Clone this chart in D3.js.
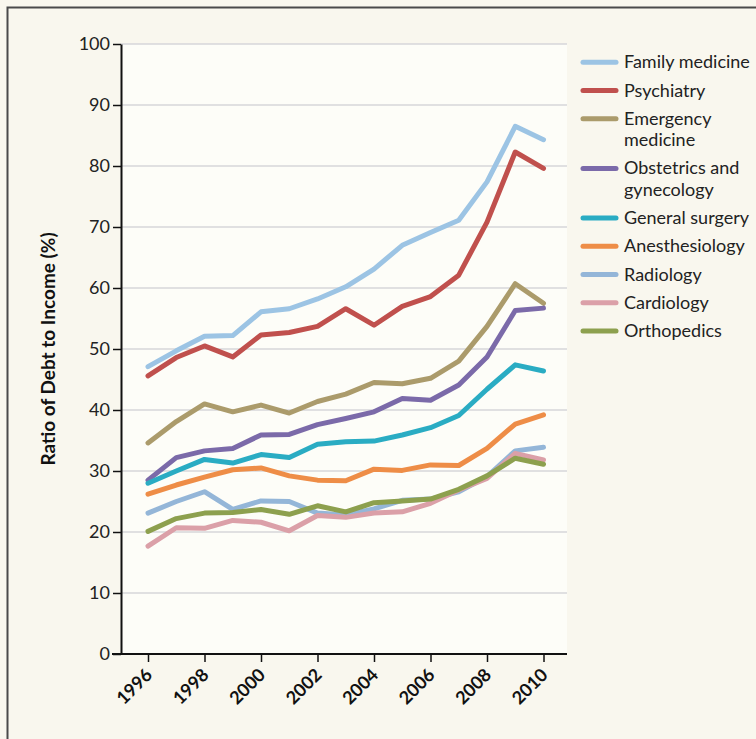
<!DOCTYPE html>
<html><head><meta charset="utf-8">
<script src="https://cdn.jsdelivr.net/npm/d3@7/dist/d3.min.js"></script>
<style>
html,body{margin:0;padding:0;background:#f9f7ee;}
svg{display:block;}
</style></head>
<body>
<script>
const years = [1996,1997,1998,1999,2000,2001,2002,2003,2004,2005,2006,2007,2008,2009,2010];
const familyMedicine = [47.1,49.7,52.1,52.2,56.1,56.6,58.2,60.2,63.1,67.0,69.1,71.1,77.4,86.5,84.3];
const psychiatry     = [45.6,48.6,50.5,48.7,52.3,52.7,53.7,56.6,53.9,57.0,58.6,62.1,70.8,82.3,79.6];
const emergencyMed   = [34.6,38.1,41.0,39.7,40.8,39.5,41.4,42.6,44.5,44.3,45.2,48.0,53.7,60.7,57.5];
const obstetrics     = [28.5,32.2,33.3,33.7,35.9,36.0,37.6,38.6,39.7,41.9,41.6,44.1,48.7,56.3,56.7];
const generalSurgery = [28.0,30.0,31.9,31.3,32.7,32.2,34.4,34.8,34.9,35.9,37.1,39.1,43.4,47.4,46.4];
const anesthesiology = [26.2,27.7,29.0,30.2,30.5,29.2,28.5,28.4,30.3,30.1,31.0,30.9,33.7,37.7,39.2];
const radiology      = [23.1,25.0,26.6,23.7,25.1,25.0,23.1,22.8,23.8,25.2,25.4,26.6,29.1,33.3,33.9];
const cardiology     = [17.7,20.7,20.6,21.9,21.6,20.2,22.7,22.4,23.1,23.3,24.7,26.9,28.8,32.9,31.8];
const orthopedics    = [20.1,22.2,23.1,23.2,23.7,22.9,24.3,23.3,24.8,25.1,25.4,27.0,29.2,32.1,31.1];

const seriesNames = [["Family medicine"],["Psychiatry"],["Emergency","medicine"],["Obstetrics and","gynecology"],["General surgery"],["Anesthesiology"],["Radiology"],["Cardiology"],["Orthopedics"]];
const seriesValues = [familyMedicine,psychiatry,emergencyMed,obstetrics,generalSurgery,anesthesiology,radiology,cardiology,orthopedics];
const seriesColors = ["#9cc4e4","#c0504d","#ab9b6b","#7b6aa9","#2aacc3","#ee8d47","#94b6d8","#dba0a8","#8da04e"];
const yTicks = [0,10,20,30,40,50,60,70,80,90,100];
const xTicks = [1996,1998,2000,2002,2004,2006,2008,2010];
const yTitle = "Ratio of Debt to Income (%)";

const W = 756, H = 739;
const svg = d3.select("body").append("svg").attr("width", W).attr("height", H);
const FONT = "Lato, 'Liberation Sans', sans-serif";

// frame
svg.append("rect").attr("x",7.5).attr("y",7.5).attr("width",900).attr("height",900)
  .attr("fill","#f9f7ee").attr("stroke","#4a4a4a").attr("stroke-width",2);

const x = d3.scaleLinear().domain([1996,2010]).range([148,543.5]);
const y = d3.scaleLinear().domain([0,100]).range([654,44]);
const plotRight = 567, plotLeft = 121;

svg.append("rect").attr("x",plotLeft).attr("y",y(100)).attr("width",plotRight-plotLeft).attr("height",y(0)-y(100)).attr("fill","#fdfdf8");

// gridlines
svg.append("g").selectAll("line").data(yTicks.filter(d=>d>0)).join("line")
  .attr("x1",plotLeft).attr("x2",plotRight).attr("y1",d=>y(d)).attr("y2",d=>y(d))
  .attr("stroke","#d6d6da").attr("stroke-width",1.5);

// y axis
const yAxis = svg.append("g").attr("transform",`translate(${plotLeft},0)`)
  .call(d3.axisLeft(y).tickValues(yTicks).tickSize(8).tickPadding(3).tickSizeOuter(0));
yAxis.select(".domain").attr("stroke","#111").attr("stroke-width",2);
yAxis.selectAll(".tick line").attr("stroke","#111").attr("stroke-width",1.5);
yAxis.selectAll(".tick text").attr("font-family",FONT).attr("font-size",18).attr("fill","#222");

// x axis
const xAxis = svg.append("g").attr("transform",`translate(0,${y(0)})`)
  .call(d3.axisBottom(x).tickValues(xTicks).tickFormat(d3.format("d")).tickSize(8).tickSizeOuter(0));
xAxis.select(".domain").attr("d",`M${plotLeft-9},0H${plotRight}`).attr("stroke","#111").attr("stroke-width",2);
xAxis.selectAll(".tick line").attr("stroke","#111").attr("stroke-width",1.5);
xAxis.selectAll(".tick text")
  .attr("font-family",FONT).attr("font-size",18).attr("font-weight","bold").attr("fill","#111")
  .attr("text-anchor","end").attr("dy",null).attr("y",null)
  .attr("transform","translate(5,22) rotate(-45)");

// y title
svg.append("text").attr("transform","translate(55,349) rotate(-90)")
  .attr("text-anchor","middle").attr("font-family",FONT).attr("font-weight","bold")
  .attr("font-size",19).attr("fill","#111").text(yTitle);

// lines
const line = d3.line().x((d,i)=>x(years[i])).y(d=>y(d));
svg.append("g").selectAll("path").data(seriesValues).join("path")
  .attr("d",d=>line(d)).attr("fill","none")
  .attr("stroke",(d,i)=>seriesColors[i]).attr("stroke-width",5)
  .attr("stroke-linejoin","round").attr("stroke-linecap","round");

// legend
const lg = svg.append("g");
let extra = 0;
seriesNames.forEach((lines,i)=>{
  const yy = 62.3 + i*28.2 + extra*21.5;
  lg.append("line").attr("x1",583).attr("x2",616).attr("y1",yy).attr("y2",yy)
    .attr("stroke",seriesColors[i]).attr("stroke-width",5).attr("stroke-linecap","round");
  const t = lg.append("text").attr("x",624).attr("y",yy+6).attr("font-family",FONT)
    .attr("font-size",18).attr("fill","#222");
  lines.forEach((s,j)=>{
    t.append("tspan").attr("x",624).attr("dy", j===0?0:21.5).text(s);
  });
  extra += lines.length-1;
});
</script>
</body></html>
